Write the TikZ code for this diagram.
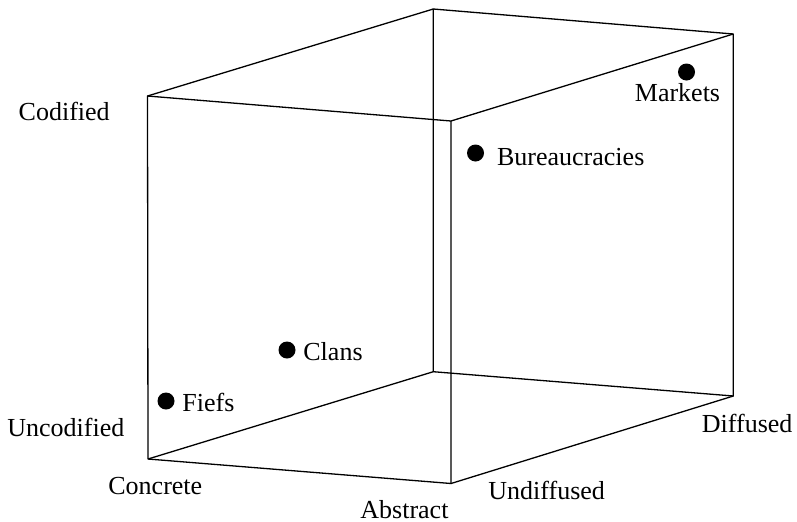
\documentclass[tikz,border=0pt]{standalone}
\usepackage{fontspec}
\setmainfont{Liberation Serif}
\begin{document}
\begin{tikzpicture}[x=0.5pt,y=-0.5pt,
  edge/.style={line width=0.65pt, line join=round},
  lbl/.style={inner sep=0pt, anchor=base west, font=\fontsize{13}{15}\selectfont},
  dot/.style={circle, fill=black, inner sep=0pt, minimum size=8.5pt}]
\useasboundingbox (0,0) rectangle (797,521);
% cube corners: front face (f), back face (b)
\coordinate (fTL) at (147.5,96);
\coordinate (fTR) at (451,121);
\coordinate (fBL) at (148,459);
\coordinate (fBR) at (451,483.5);
\coordinate (bTL) at (433.3,9);
\coordinate (bTR) at (733.3,34);
\coordinate (bBL) at (433.3,371.7);
\coordinate (bBR) at (733.3,396);
% front face
\draw[edge] (fTL) -- (fTR) -- (fBR) -- (fBL) -- cycle;
% back face
\draw[edge] (bTL) -- (bTR) -- (bBR) -- (bBL) -- cycle;
% depth edges
\draw[edge] (fTL) -- (bTL);
\draw[edge] (fTR) -- (bTR);
\draw[edge] (fBL) -- (bBL);
\draw[edge] (fBR) -- (bBR);
% axis labels
\node[lbl] (codified) at (18.3,120.5) {Codified};
\node[lbl] (uncodified) at (7,436.7) {Uncodified};
\node[lbl] (concrete) at (108,494) {Concrete};
\node[lbl] (abstract) at (360,518) {Abstract};
\node[lbl] (undiffused) at (488,499) {Undiffused};
\node[lbl] (diffused) at (701.5,432.5) {Diffused};
% institutions
\node[dot] (markets) at (686.5,72) {};
\node[lbl] (marketslbl) at (634.5,101.7) {Markets};
\node[dot] (bureau) at (475.5,153) {};
\node[lbl] (bureaulbl) at (496.7,165) {Bureaucracies};
\node[dot] (clans) at (287,350) {};
\node[lbl] (clanslbl) at (303,360) {Clans};
\node[dot] (fiefs) at (166,401) {};
\node[lbl] (fiefslbl) at (182,411) {Fiefs};
\end{tikzpicture}
\end{document}
